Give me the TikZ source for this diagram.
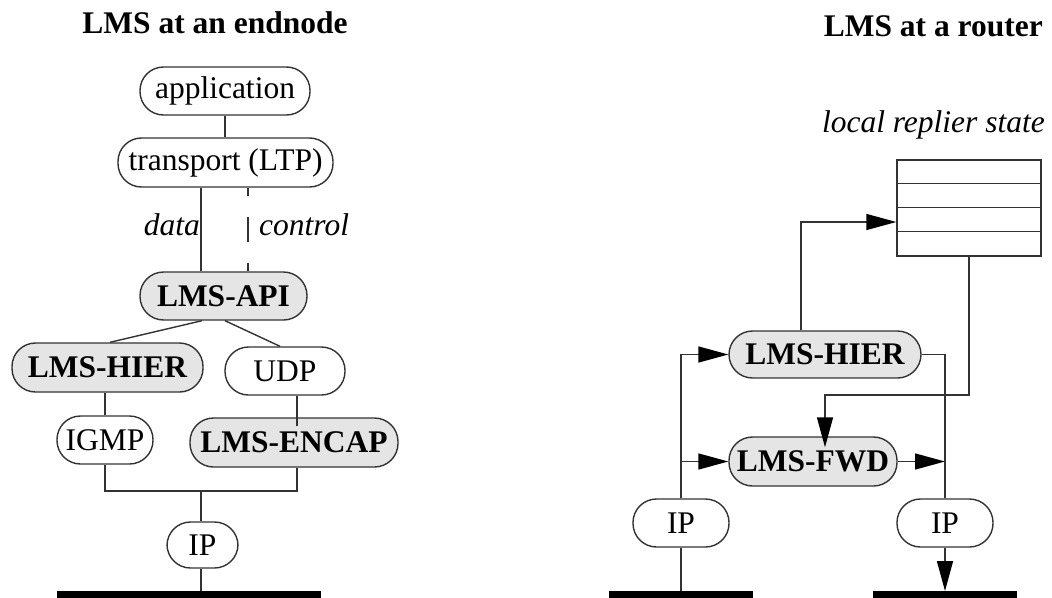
\documentclass[tikz,border=0pt]{standalone}
\usepackage{fontspec}
\setmainfont{Liberation Serif}
\usetikzlibrary{arrows.meta,calc}

\begin{document}
\begin{tikzpicture}[x=1pt,y=-1pt,
  every node/.style={font=\fontsize{31.5}{36}\selectfont},
  line/.style={line width=1.4pt, draw=black!80},
  layer/.style={draw=black!80, line width=1.4pt, inner sep=0pt,
    rounded corners=23.5pt, fill=white},
  lms/.style={layer, fill=black!10,
    font=\fontsize{31.5}{36}\selectfont\bfseries},
  title/.style={inner sep=0pt, font=\fontsize{31.5}{36}\selectfont\bfseries},
  note/.style={inner sep=0pt, font=\fontsize{31.5}{36}\selectfont\itshape},
  tip/.style={-{Triangle[length=30pt,width=16pt,color=black]}},
  net/.style={fill=black, inner sep=0pt, minimum height=7pt, anchor=north west}
]
\useasboundingbox (0,0) rectangle (1052,597);

% ---------------- endnode stack ----------------
\node[title, anchor=base] (ttl) at (215,33) {LMS at an endnode};

\node[layer, minimum width=170pt, minimum height=48pt] (app)   at (225,91)    {application};
\node[layer, minimum width=215pt, minimum height=49pt] (ltp)   at (225.5,162.5) {transport (LTP)};
\node[lms,   minimum width=167pt, minimum height=48pt] (api)   at (223.5,296) {LMS-API};
\node[lms,   minimum width=191pt, minimum height=49pt] (hier)  at (107.5,367.5) {LMS-HIER};
\node[layer, minimum width=120pt, minimum height=48pt] (udp)   at (285,371)   {UDP};
\node[layer, minimum width=96pt,  minimum height=48pt] (igmp)  at (105,440)   {IGMP};
\node[lms,   minimum width=208pt, minimum height=49pt] (encap) at (294,442.5) {LMS-ENCAP};
\node[layer, minimum width=71pt,  minimum height=46pt] (ip)    at (202.5,545) {IP};
\node[net, minimum width=264pt] (lnet) at (57,591) {};

\node[note, anchor=base east] (dlab) at (200,235) {data};
\node[note, anchor=base west] (clab) at (259,235) {control};

\draw[line] (app.south) -- (app.south |- ltp.north);
\draw[line] (ltp.south -| 201,0) -- (api.north -| 201,0);
\draw[line, dash pattern=on 25pt off 21pt, dash phase=17pt]
  (ltp.south -| 248,0) -- (api.north -| 248,0);
\draw[line] ($(api.south)+(-21.5,0)$) -- ($(hier.north)+(2.5,0)$);
\draw[line] ($(api.south)+(1.5,0)$) -- ($(udp.north)+(-5,0)$);
\draw[line] (igmp.north |- hier.south) -- (igmp.north);
\draw[line] ($(udp.south)+(12,0)$) -- ($(encap.north)+(3,9)$);

\coordinate (join) at (201,491);
\draw[line] (igmp.south) |- (join);
\draw[line] ($(encap.south)+(3,0)$) |- (join);
\draw[line] (join) -- (join |- ip.north);
\draw[line] (join |- ip.south) -- (join |- lnet.north);

% ---------------- router ----------------
\node[title, anchor=base east] (ttr) at (1043,36) {LMS at a router};
\node[note, anchor=base east] (slab) at (1045,132) {local replier state};

\node[draw=black!80, line width=1.4pt, minimum width=144pt, minimum height=96pt,
  inner sep=0pt] (state) at (969,208) {};
\foreach \k in {1,2,3}
  \draw[line] ($(state.north west)+(0,24*\k)$) -- ($(state.north east)+(0,24*\k)$);

\node[lms,   minimum width=192pt, minimum height=47pt] (rhier) at (825,354.5) {LMS-HIER};
\node[lms,   minimum width=168pt, minimum height=49pt] (fwd)   at (813,461.5) {LMS-FWD};
\node[layer, minimum width=96pt,  minimum height=48pt] (ipl)   at (681,523)   {IP};
\node[layer, minimum width=96pt,  minimum height=48pt] (ipr)   at (945,523)   {IP};
\node[net, minimum width=144pt] (netl) at (609,591) {};
\node[net, minimum width=144pt] (netr) at (873,591) {};

\draw[line, tip] ($(rhier.north)+(-24,0)$) |- ($(state.west)+(0,14)$);
\coordinate (fwdtop) at ($(fwd.north)+(12,11)$);
\draw[line, tip] (state.south) -- (state.south |- 0,395) -| (fwdtop);
\draw[line, tip] (ipl.north) |- (rhier.west);
\draw[line, tip] (ipl.north |- fwd.west) -- (fwd.west);
\draw[line, tip] (fwd.east) -- (fwd.east -| ipr.north);
\draw[line] (rhier.east) -| (ipr.north);
\draw[line] (ipl.south) -- (ipl.south |- netl.north);
\draw[line, tip] (ipr.south) -- (ipr.south |- netr.north);
\end{tikzpicture}
\end{document}
